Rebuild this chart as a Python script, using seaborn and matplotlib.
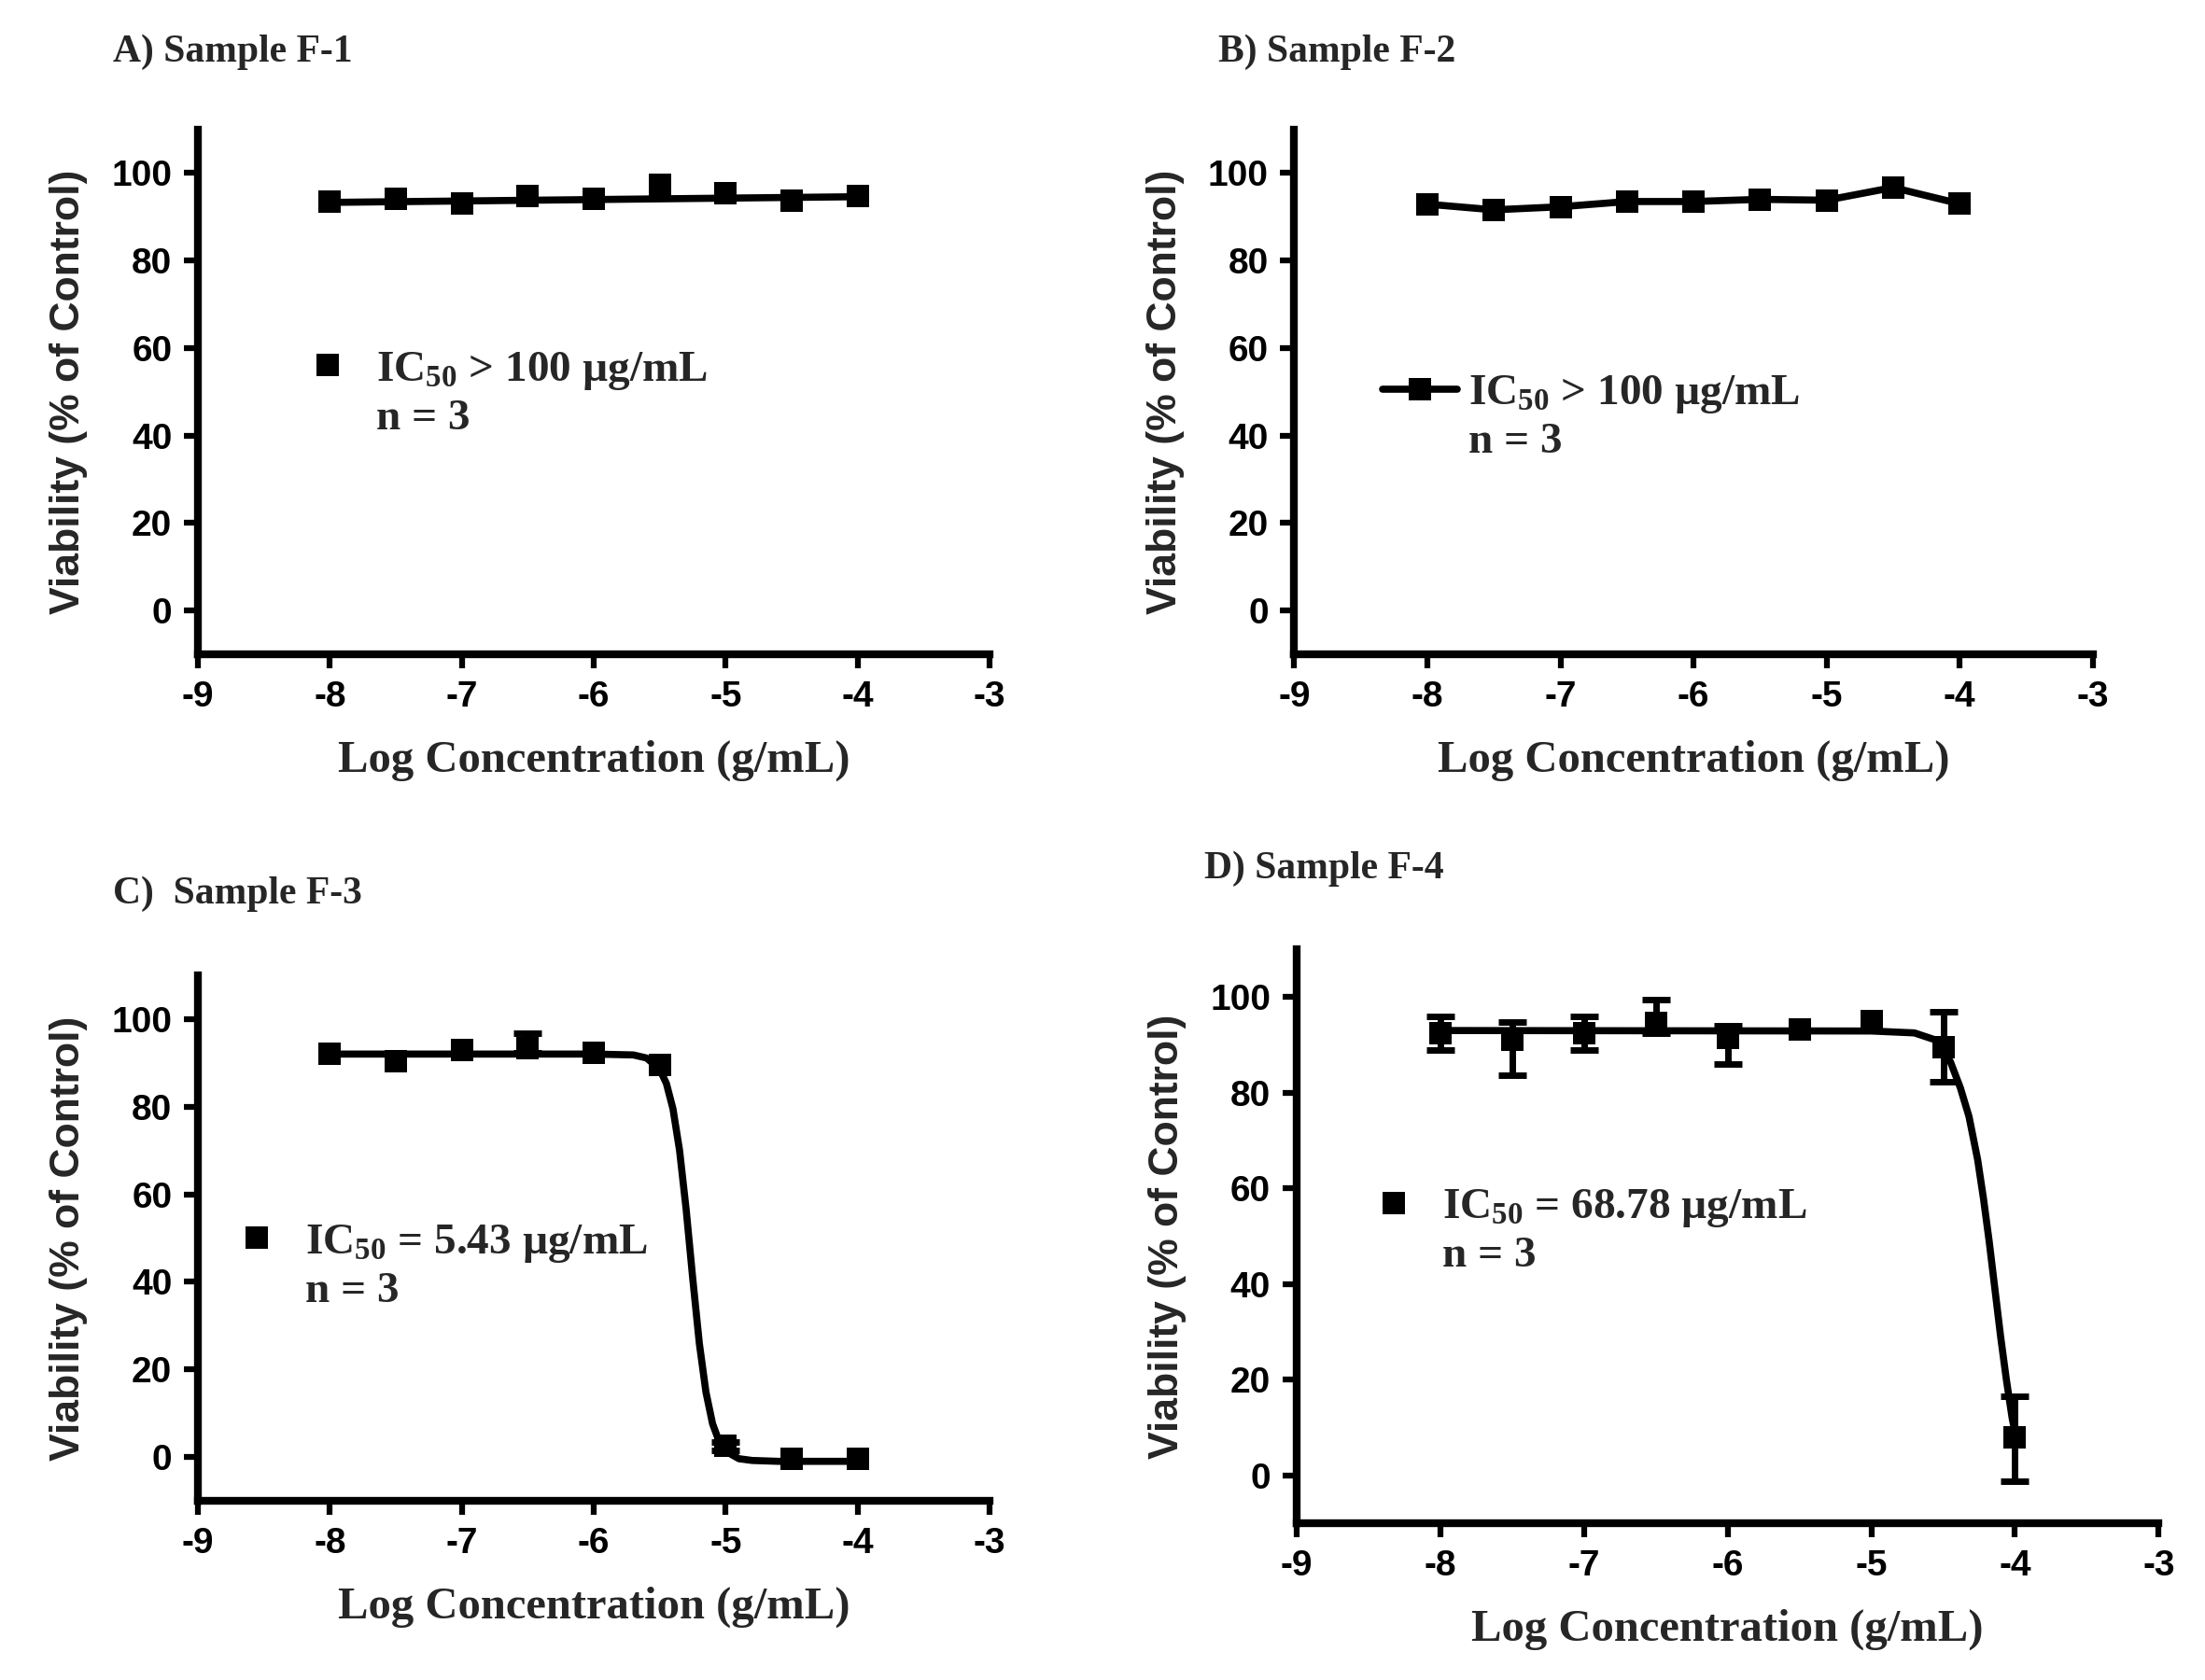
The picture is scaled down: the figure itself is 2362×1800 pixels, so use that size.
import matplotlib.pyplot as plt
from matplotlib.lines import Line2D
from matplotlib.font_manager import FontProperties
import pandas as pd
import seaborn as sns

sns.set_style("ticks")
plt.rcParams["font.family"] = ["Liberation Sans", "DejaVu Sans"]
plt.rcParams["font.weight"] = "bold"
plt.rcParams["axes.unicode_minus"] = False
plt.rcParams["mathtext.fontset"] = "custom"
plt.rcParams["mathtext.rm"] = "Liberation Serif:bold"
plt.rcParams["mathtext.it"] = "Liberation Serif:bold"
plt.rcParams["mathtext.bf"] = "Liberation Serif:bold"

# Data
log_conc = [-8, -7.5, -7, -6.5, -6, -5.5, -5, -4.5, -4]

f1_mean = [93.5, 94.1, 93.1, 94.8, 94.2, 97.3, 95.4, 93.6, 94.7]
f1_fit_x = [-8, -4]
f1_fit_y = [93.3, 94.6]

f2_mean = [92.9, 91.6, 92.3, 93.5, 93.5, 94.0, 93.8, 96.7, 93.0]

f3_mean = [92.0, 90.4, 92.9, 93.3, 92.3, 89.6, 2.5, -0.4, -0.4]
f3_err_lo = [0, 0, 0, 1.0, 0, 0, 1.0, 0, 0]
f3_err_hi = [0, 0, 0, 3.5, 0, 0, 1.0, 0, 0]
f3_fit_x = [-8, -6, -5.7, -5.6, -5.5, -5.45, -5.4, -5.35, -5.3, -5.25,
            -5.2, -5.15, -5.1, -5.05, -5.0, -4.9, -4.8, -4.6, -4.0]
f3_fit_y = [92, 92, 91.8, 91.1, 88.5, 85.3, 79.5, 70, 56.5, 40.7,
            25.9, 14.8, 7.6, 3.5, 1.3, -0.4, -0.8, -1.0, -1.0]

f4_mean = [92.5, 91.0, 92.5, 94.5, 91.5, 93.3, 95.0, 89.5, 8.0]
f4_err_lo = [3.5, 7.3, 3.5, 2.0, 5.5, 0, 0, 7.3, 9.2]
f4_err_hi = [3.5, 3.8, 3.5, 5.0, 2.5, 0, 0, 7.5, 8.5]
f4_fit_x = [-8.0, -5.0, -4.7, -4.55, -4.45, -4.38, -4.32, -4.26, -4.22,
            -4.18, -4.14, -4.10, -4.06, -4.02, -4.0]
f4_fit_y = [93.0, 92.9, 92.5, 91.0, 86.5, 81, 75, 66, 58,
            49, 39, 29, 20, 12, 9]

titles = ["A) Sample F-1", "B) Sample F-2", "C)  Sample F-3", "D) Sample F-4"]
ic50_labels = ["IC$_{50}$ > 100 µg/mL", "IC$_{50}$ > 100 µg/mL",
               "IC$_{50}$ = 5.43 µg/mL", "IC$_{50}$ = 68.78 µg/mL"]

serif_bold = FontProperties(family="Liberation Serif", weight="bold", size=34)


def draw_panel(ax, mean, fit_x=None, fit_y=None, err_lo=None, err_hi=None,
               connect=False, legend_line=False, label="", anchor=(0.15, 0.57)):
    df = pd.DataFrame({"x": log_conc, "y": mean})
    if err_lo is not None:
        err = df.assign(lo=err_lo, hi=err_hi)
        err = err[(err.lo + err.hi) > 0]
        ax.errorbar(err.x, err.y, yerr=[err.lo, err.hi], fmt="none",
                    ecolor="black", elinewidth=5, capsize=11, capthick=5, zorder=2)
    if connect:
        sns.lineplot(data=df, x="x", y="y", ax=ax, color="black", linewidth=5.5,
                     marker="s", markersize=17, markeredgewidth=0, zorder=3)
    else:
        fit = pd.DataFrame({"x": fit_x, "y": fit_y})
        sns.lineplot(data=fit, x="x", y="y", ax=ax, color="black", linewidth=5.5,
                     sort=False, zorder=3)
        sns.scatterplot(data=df, x="x", y="y", ax=ax, color="black", marker="s",
                        s=290, linewidth=0, zorder=4)

    ax.set_xlim(-9, -3)
    ax.set_ylim(-10, 110)
    ax.set_xticks(range(-9, -2))
    ax.set_yticks(range(0, 101, 20))
    sns.despine(ax=ax)
    for side in ["left", "bottom"]:
        ax.spines[side].set_linewidth(6)
        ax.spines[side].set_color("black")
    ax.tick_params(direction="out", length=11, width=4.5, labelsize=28, pad=9,
                   colors="black")
    ax.set_xlabel("Log Concentration (g/mL)", fontproperties=FontProperties(
        family="Liberation Serif", weight="bold", size=35), labelpad=20)
    ax.set_ylabel("Viability (% of Control)", fontsize=32, fontweight="bold",
                  labelpad=18)

    if legend_line:
        h1 = Line2D([], [], color="black", marker="s", markersize=17, lw=5.5,
                    markeredgewidth=0)
        hl, hp = 1.7, 0.25
    else:
        h1 = Line2D([], [], color="black", marker="s", markersize=17,
                    linestyle="none", markeredgewidth=0)
        hl, hp = 0.5, 0.85
    h2 = Line2D([], [], linestyle="none")
    ax.legend([h1, h2], [label, "n = 3"], loc="upper left", bbox_to_anchor=anchor,
              frameon=False, prop=serif_bold, handlelength=hl, handletextpad=hp,
              borderaxespad=0, borderpad=0, labelspacing=0.15)


fig = plt.figure(figsize=(23.62, 18), dpi=100)
ax_a = fig.add_axes([0.0898, 0.6106, 0.359, 0.3124])
ax_b = fig.add_axes([0.587, 0.6106, 0.362, 0.3124])
ax_c = fig.add_axes([0.0898, 0.1067, 0.359, 0.3128])
ax_d = fig.add_axes([0.588, 0.0933, 0.391, 0.3417])

draw_panel(ax_a, f1_mean, f1_fit_x, f1_fit_y, label=ic50_labels[0],
           anchor=(0.150, 0.58))
draw_panel(ax_b, f2_mean, connect=True, legend_line=True, label=ic50_labels[1],
           anchor=(0.110, 0.535))
draw_panel(ax_c, f3_mean, f3_fit_x, f3_fit_y, f3_err_lo, f3_err_hi,
           label=ic50_labels[2], anchor=(0.060, 0.53))
draw_panel(ax_d, f4_mean, f4_fit_x, f4_fit_y, f4_err_lo, f4_err_hi,
           label=ic50_labels[3], anchor=(0.100, 0.585))

title_font = FontProperties(family="Liberation Serif", weight="bold", size=30)
fig.text(0.0513, 0.969, titles[0], fontproperties=title_font, va="center")
fig.text(0.5525, 0.969, titles[1], fontproperties=title_font, va="center")
fig.text(0.0513, 0.468, titles[2], fontproperties=title_font, va="center")
fig.text(0.546, 0.483, titles[3], fontproperties=title_font, va="center")

fig.savefig("out.png", dpi=100, facecolor="white")
